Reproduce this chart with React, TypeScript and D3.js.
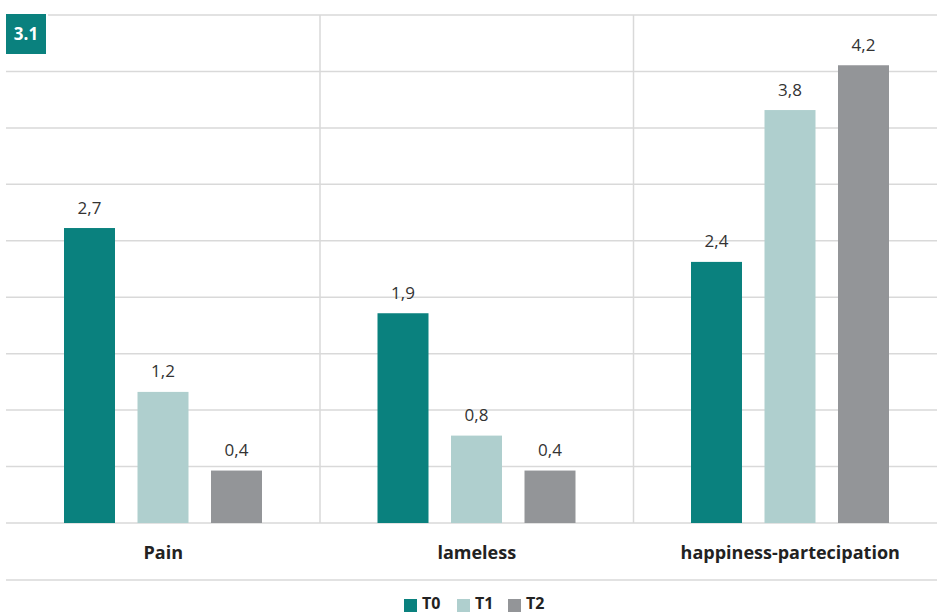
import React from "react";
import * as d3 from "d3";

const categories = ["Pain", "lameless", "happiness-partecipation"];
const seriesNames = ["T0", "T1", "T2"];
const t0Values = [2.7, 1.92, 2.39];
const t1Values = [1.2, 0.8, 3.78];
const t2Values = [0.48, 0.48, 4.19];
const t0Labels = ["2,7", "1,9", "2,4"];
const t1Labels = ["1,2", "0,8", "3,8"];
const t2Labels = ["0,4", "0,4", "4,2"];
const colors = ["#0a817e", "#afcfce", "#939598"];
const gridCount = 9;

export default function App() {
  const W = 937, H = 613;
  const left = 6.5, bandW = 313.5;
  const top = 15, base = 523;
  const yMax = 4.65;
  const x0 = d3.scaleBand<string>().domain(categories).range([left, left + bandW * 3]).paddingInner(0).paddingOuter(0);
  const x1 = d3.scaleBand<string>().domain(seriesNames).range([57.5, 57.5 + 73.5 * 3 - 22.5]).paddingInner(22.5 / 73.5).paddingOuter(0);
  const y = d3.scaleLinear().domain([0, yMax]).range([base, top]);
  const gridYs = d3.range(gridCount + 1).map((i) => base - ((base - top) / gridCount) * i);
  const values = [t0Values, t1Values, t2Values];
  const labels = [t0Labels, t1Labels, t2Labels];
  const font = "'Open Sans', 'Noto Sans', sans-serif";
  const legendX = [404, 457, 508];
  return (
    <svg width={W} height={H} style={{ position: "absolute", left: 0, top: 0 }} fontFamily={font}>
      {gridYs.map((gy, i) => (
        <line key={i} x1={i === gridCount ? 48 : 6} x2={W} y1={gy} y2={gy} stroke="#d9d9d9" strokeWidth={1.5} />
      ))}
      <line x1={6} x2={W} y1={580} y2={580} stroke="#d9d9d9" strokeWidth={1.5} />
      {categories.slice(1).map((c) => (
        <line key={c} x1={x0(c)!} x2={x0(c)!} y1={top} y2={base} stroke="#d9d9d9" strokeWidth={1.5} />
      ))}
      {categories.map((c, ci) => (
        <g key={c} transform={`translate(${x0(c)},0)`}>
          {seriesNames.map((s, si) => {
            const v = values[si][ci];
            const bx = x1(s)!;
            return (
              <g key={s}>
                <rect x={bx} y={y(v)} width={x1.bandwidth()} height={base - y(v)} fill={colors[si]} />
                <text x={bx + x1.bandwidth() / 2} y={y(v) - 14.5} textAnchor="middle" fontSize={17} fill="#333">
                  {labels[si][ci]}
                </text>
              </g>
            );
          })}
          <text x={bandW / 2} y={559} textAnchor="middle" fontSize={18} fontWeight="bold" fill="#222">
            {c}
          </text>
        </g>
      ))}
      <rect x={6} y={14} width={40} height={40} fill="#0a817e" />
      <text x={26} y={40} textAnchor="middle" fontSize={17} fontWeight="bold" fill="#fff">3.1</text>
      {seriesNames.map((s, i) => (
        <g key={s}>
          <rect x={legendX[i]} y={599} width={13} height={13} fill={colors[i]} />
          <text x={legendX[i] + 18} y={609} fontSize={16} fontWeight="bold" fill="#222">{s}</text>
        </g>
      ))}
    </svg>
  );
}
